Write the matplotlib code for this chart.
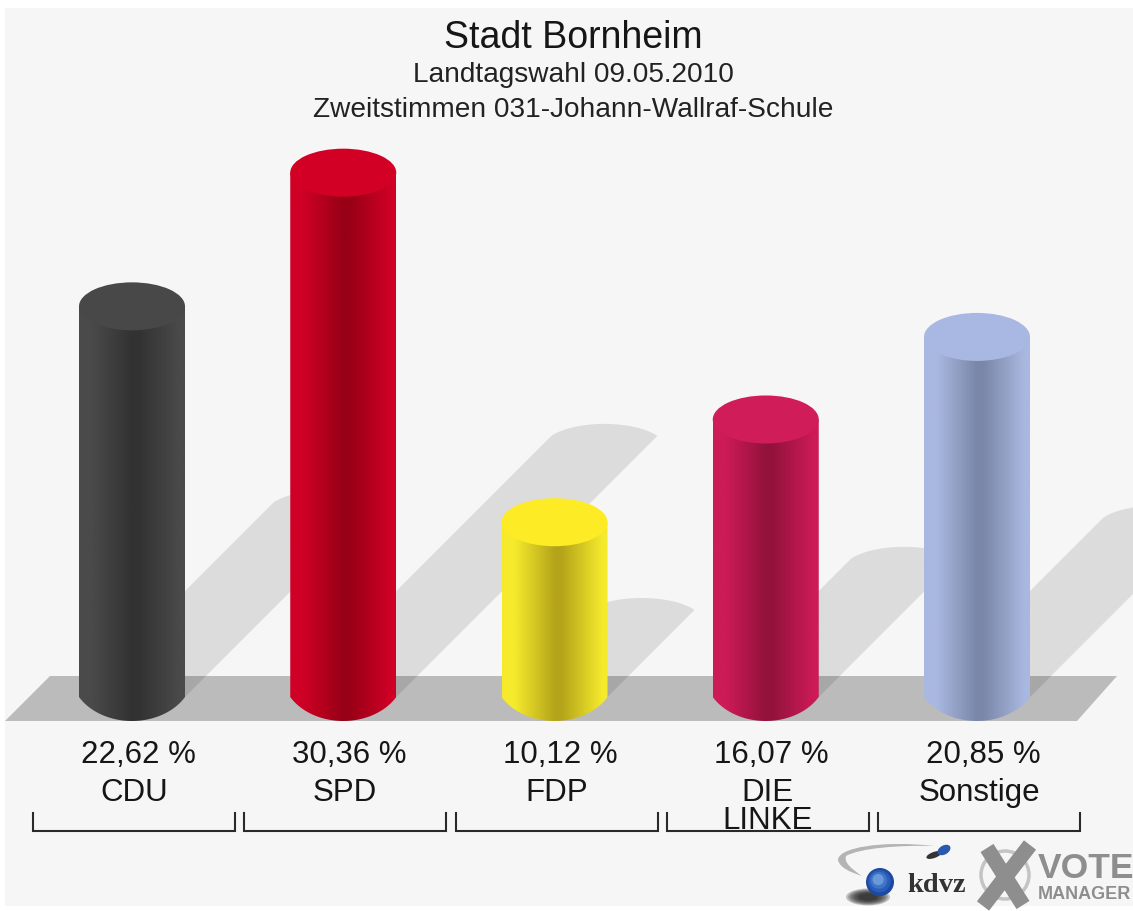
import numpy as np
import matplotlib
matplotlib.use("Agg")
import matplotlib.pyplot as plt
from matplotlib.colors import LinearSegmentedColormap
from matplotlib.patches import Ellipse, Polygon, PathPatch, Circle
from matplotlib.path import Path
from matplotlib.transforms import Affine2D, blended_transform_factory

parteien = ["CDU", "SPD", "FDP", "DIE\nLINKE", "Sonstige"]
prozente = [22.62, 30.36, 10.12, 16.07, 20.85]
prozent_labels = ["22,62 %", "30,36 %", "10,12 %", "16,07 %", "20,85 %"]
farbe_rand = ["#4a4a4a", "#cf0025", "#f6ea2c", "#cc1b57", "#a9b8e0"]
farbe_dunkel = ["#323232", "#970016", "#b3a41a", "#93123c", "#7a87a8"]
farbe_deckel = ["#484848", "#d20024", "#fdec25", "#d01c59", "#a8b8e2"]

titel = "Stadt Bornheim"
untertitel_1 = "Landtagswahl 09.05.2010"
untertitel_2 = "Zweitstimmen 031-Johann-Wallraf-Schule"

B, H = 1133, 911
PX_PRO_PROZENT = 17.27
PX_PRO_KATEGORIE = 211.25
BASIS_Y = 697
ERSTE_X = 132
HALB_B = 53 / PX_PRO_KATEGORIE
HALB_H = 24 / PX_PRO_PROZENT
SCHATTEN = 0.498

plt.rcParams["font.family"] = ["Liberation Sans", "DejaVu Sans"]

fig = plt.figure(figsize=(B / 100, H / 100), dpi=100, facecolor="white")
ax = fig.add_axes([0, 0, 1, 1])
ax.set_xlim(-ERSTE_X / PX_PRO_KATEGORIE, (B - ERSTE_X) / PX_PRO_KATEGORIE)
ax.set_ylim((BASIS_Y - H) / PX_PRO_PROZENT, BASIS_Y / PX_PRO_PROZENT)
ax.axis("off")

# Koordinaten in Bildpixeln, y nach unten
px = Affine2D().scale(1, -1).translate(0, H)
x_daten_y_px = blended_transform_factory(ax.transData, px)


def bogen(u, faktor=1.15):
    # flacher Bogen: 1 in der Mitte, 0 an den Ecken (u = -1..1)
    rand = np.sqrt(1 - (1 / faktor) ** 2)
    return (np.sqrt(1 - (u / faktor) ** 2) - rand) / (1 - rand)


# Hintergrund und Boden
ax.add_patch(Polygon([(5, 8), (B, 8), (B, 906), (5, 906)], transform=px, fc="#f6f6f6", ec="none", zorder=0))
ax.add_patch(Polygon([(5, 721), (1077, 721), (1117, 676), (50, 676)], transform=px, fc="#bbbbbb", ec="none", zorder=1))

x_pos = np.arange(len(prozente))
u = np.linspace(-1, 1, 80)

# Schatten
for x, wert in zip(x_pos, prozente):
    dy = wert * SCHATTEN
    dx = dy * PX_PRO_PROZENT / PX_PRO_KATEGORIE
    kurve_x = x + dx + HALB_B * u
    kurve_y = dy + 12 / PX_PRO_PROZENT * bogen(u)
    ecken = [(x + HALB_B, 0), (x - HALB_B, 0)] + list(zip(kurve_x, kurve_y))
    ax.add_patch(Polygon(ecken, fc="black", alpha=0.1, ec="none", zorder=2))

# Zylinder
for x, wert, rand, dunkel, deckel in zip(x_pos, prozente, farbe_rand, farbe_dunkel, farbe_deckel):
    cmap = LinearSegmentedColormap.from_list(
        "zyl", [(0, rand), (0.12, rand), (0.5, dunkel), (0.56, dunkel), (0.95, rand), (1, rand)]
    )
    verlauf = ax.imshow(
        np.linspace(0, 1, 256).reshape(1, -1), cmap=cmap, aspect="auto", zorder=3,
        extent=(x - HALB_B, x + HALB_B, -HALB_H, wert), interpolation="bilinear",
    )
    unten_x = x + HALB_B * u
    unten_y = -HALB_H * bogen(u)
    umriss = list(zip(unten_x, unten_y)) + [(x + HALB_B, wert), (x - HALB_B, wert)]
    clip = Polygon(umriss, transform=ax.transData, fc="none", ec="none")
    ax.add_patch(clip)
    verlauf.set_clip_path(clip)
    ax.add_patch(Ellipse((x, wert), 2 * HALB_B, 2 * HALB_H, fc=deckel, ec="none", zorder=4))

ax.set_xlim(-ERSTE_X / PX_PRO_KATEGORIE, (B - ERSTE_X) / PX_PRO_KATEGORIE)
ax.set_ylim((BASIS_Y - H) / PX_PRO_PROZENT, BASIS_Y / PX_PRO_PROZENT)

# Titel
ax.text(573, 48, titel, transform=px, ha="center", va="baseline", fontsize=27, color="#161616")
ax.text(573, 82, untertitel_1, transform=px, ha="center", va="baseline", fontsize=20.2, color="#222222")
ax.text(573, 117, untertitel_2, transform=px, ha="center", va="baseline", fontsize=20.2, color="#222222")

# Beschriftung und Klammern
for x, label, partei in zip(x_pos, prozent_labels, parteien):
    mitte = x + 2 / PX_PRO_KATEGORIE
    ax.text(x + 6 / PX_PRO_KATEGORIE, 763, label, transform=x_daten_y_px, ha="center", va="baseline",
            fontsize=22.5, color="#161616")
    # mehrzeilige Namen zeilenweise setzen, Grundlinie sonst an der letzten Zeile
    for i, zeile in enumerate(partei.split("\n")):
        ax.text(mitte, 801 + 28 * i, zeile, transform=x_daten_y_px, ha="center", va="baseline",
                fontsize=22.5, color="#161616", zorder=6)
    links = mitte - 101 / PX_PRO_KATEGORIE
    rechts = mitte + 101 / PX_PRO_KATEGORIE
    ax.plot([links, links, rechts, rechts], [813, 831, 831, 813], transform=x_daten_y_px,
            color="#2a2a2a", lw=1.5, solid_joinstyle="miter", zorder=5)

# Logo kdvz
swoosh = Path(
    [(935, 846), (880, 840), (838, 848), (838, 860), (840, 868), (850, 872), (862, 876),
     (850, 868), (844, 862), (846, 856), (860, 848), (900, 845), (935, 846), (935, 846)],
    [Path.MOVETO, Path.CURVE4, Path.CURVE4, Path.CURVE4, Path.CURVE4, Path.CURVE4, Path.CURVE4,
     Path.CURVE4, Path.CURVE4, Path.CURVE4, Path.CURVE4, Path.CURVE4, Path.CURVE4, Path.CLOSEPOLY],
)
ax.add_patch(PathPatch(swoosh, transform=px, fc="#b4b4b4", ec="none", zorder=3))
for s in np.linspace(1.0, 0.4, 7):
    ax.add_patch(Ellipse((868, 897), 44 * s, 17 * s, transform=px, fc="#222222", ec="none", alpha=0.25, zorder=3))
for s, farbe in zip([1.0, 0.8, 0.6, 0.4], ["#1c4aa0", "#2a5cb8", "#3f74c8", "#6a98d8"]):
    ax.add_patch(Circle((880 - 3 * (1 - s), 882 - 4 * (1 - s)), 14 * s, transform=px, fc=farbe, ec="none", zorder=4))
ax.add_patch(Ellipse((934, 855), 16, 6, angle=-20, transform=px, fc="#333333", ec="none", zorder=3))
ax.add_patch(Ellipse((944, 850), 14, 9, angle=-30, transform=px, fc="#2858b0", ec="none", zorder=4))
ax.text(937, 892, "kdvz", transform=px, ha="center", va="baseline", fontsize=20.5, fontweight="bold",
        family="Liberation Serif", color="#333333")

# Logo Vote Manager
ax.add_patch(Circle((1005, 875), 24, transform=px, fc="none", ec="#c4c4c4", lw=2.5, zorder=3))
ax.plot([987, 1023], [848, 905], transform=px, color="#8e8e8e", lw=11, solid_capstyle="butt", zorder=4)
ax.plot([1030, 983], [845, 906], transform=px, color="#8e8e8e", lw=11, solid_capstyle="butt", zorder=4)
ax.text(1038, 878, "VOTE", transform=px, ha="left", va="baseline", fontsize=25.5, fontweight="bold", color="#8e8e8e")
ax.text(1038, 899, "MANAGER", transform=px, ha="left", va="baseline", fontsize=13, fontweight="bold", color="#8e8e8e")

fig.savefig("out.png", dpi=100, facecolor=fig.get_facecolor())
plt.close(fig)
